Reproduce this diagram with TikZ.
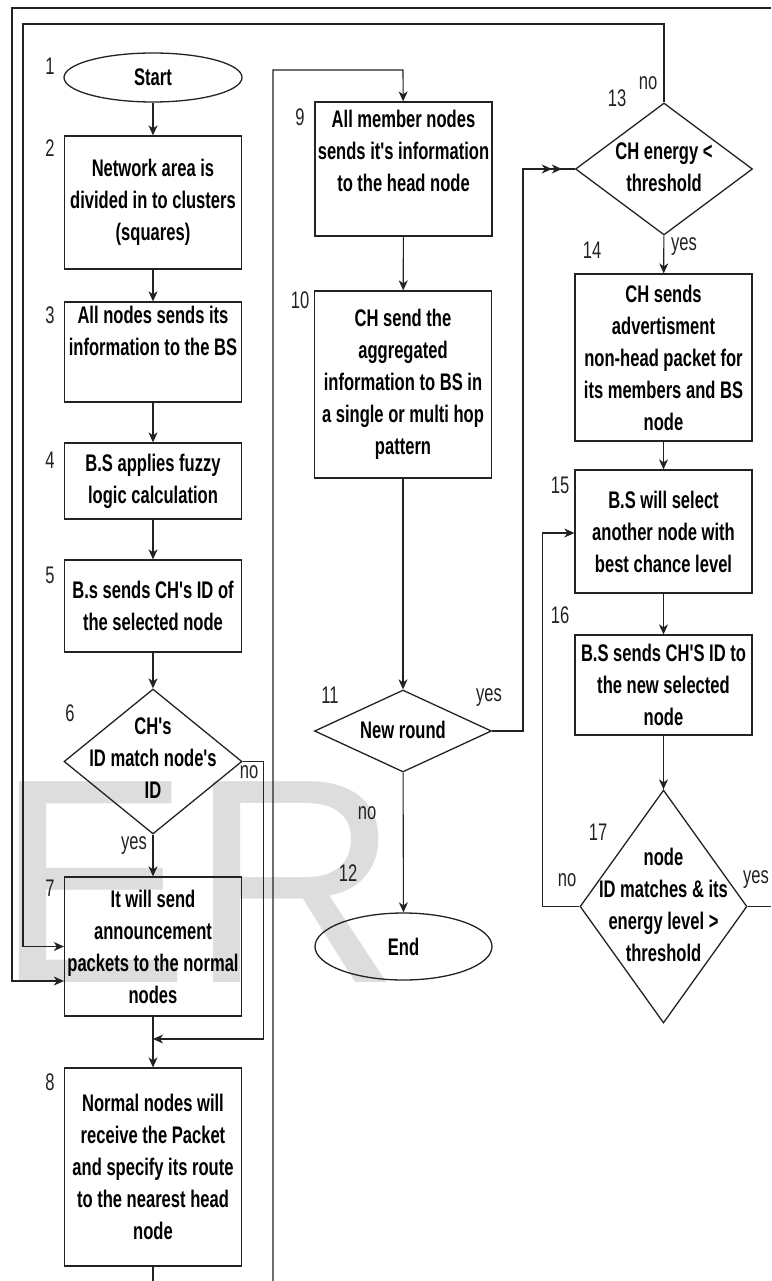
\documentclass[tikz,border=0pt]{standalone}
\usepackage{fontspec}
\setmainfont{Liberation Sans}[FakeStretch=0.69,Ligatures=TeXOff]
\newfontfamily\wmfont{Liberation Sans}
\usetikzlibrary{shapes.geometric,arrows.meta,calc}
\definecolor{wm}{HTML}{DDDDDD}
\definecolor{ln}{HTML}{222222}
\begin{document}
\begin{tikzpicture}[x=1pt,y=-1pt,
  shp/.style={draw=ln, line width=1.3pt, inner sep=0pt},
  box/.style={shp, rectangle, minimum width=177pt, align=center,
    font=\bfseries\fontsize{24}{32}\selectfont},
  oval/.style={shp, ellipse, font=\bfseries\fontsize{24}{32}\selectfont},
  dia/.style={shp, diamond},
  txt/.style={align=center, inner sep=0pt, font=\bfseries\fontsize{24}{32}\selectfont},
  lbl/.style={inner sep=0pt, text=ln, font=\fontsize{24}{28}\selectfont},
  wmk/.style={inner sep=0pt, anchor=base west, text=wm, font=\wmfont\fontsize{292}{292}\selectfont},
  conn/.style={draw=ln, line width=1.1pt},
  arr/.style={conn, -{Stealth[length=10pt,width=9pt,inset=3pt]}},
  darr/.style={conn, -{Stealth[length=10pt,width=9pt,inset=3pt]Stealth[length=10pt,width=9pt,inset=3pt]}}
]
\useasboundingbox (0,0) rectangle (771,1281);
% watermark
\node[wmk] (wmE) at (-5,982) {E};
\node[wmk] (wmR) at (189,982) {R};

% left column
\node[oval, minimum width=178pt, minimum height=49pt] (n1) at (153,77.5) {Start};
\node[box, minimum height=133pt] (n2) at (153,202.5) {Network area is\\divided in to clusters\\(squares)};
\node[box, minimum height=100pt] (n3) at (153,352) {};
\node[txt] (t3) at (153,331) {All nodes sends its\\information to the BS};
\node[box, minimum height=76pt] (n4) at (153,481) {B.S applies fuzzy\\logic calculation};
\node[box, minimum height=92pt] (n5) at (153,606) {B.s sends CH's ID of\\the selected node};
\node[dia, minimum width=178pt, minimum height=145pt] (d6) at (153,761.5) {};
\node[txt] (t6) at (153,758) {CH's\\ID match node's\\ID};
\node[box, minimum height=139pt] (n7) at (153,946.5) {It will send\\announcement\\packets to the normal\\nodes};
\node[box, minimum height=198pt] (n8) at (153,1167) {Normal nodes will\\receive the Packet\\and specify its route\\to the nearest head\\node};

% middle column
\node[box, minimum height=134pt] (n9) at (403.5,169) {};
\node[txt] (t9) at (403.5,151) {All member nodes\\sends it's information\\to the head node};
\node[box, minimum height=187pt] (n10) at (403,384.5) {CH send the\\aggregated\\information to BS in\\a single or multi hop\\pattern};
\node[dia, minimum width=177pt, minimum height=82pt] (d11) at (403,731) {};
\node[txt] (t11) at (403,730) {New round};
\node[oval, minimum width=177pt, minimum height=67pt] (n12) at (403.5,946.5) {End};

% right column
\node[dia, minimum width=177pt, minimum height=132pt] (d13) at (664,169) {};
\node[txt] (t13) at (664,167) {CH energy <\\threshold};
\node[box, minimum height=167pt] (n14) at (663.5,357.5) {CH sends\\advertisment\\non-head packet for\\its members and BS\\node};
\node[box, minimum height=123pt] (n15) at (663.5,531.5) {B.S will select\\another node with\\best chance level};
\node[box, minimum height=100pt] (n16) at (663.5,685) {B.S sends CH'S ID to\\the new selected\\node};
\node[dia, minimum width=167pt, minimum height=233pt] (d17) at (663.5,906.5) {};
\node[txt] (t17) at (663.5,905) {node\\ID matches \& its\\energy level >\\threshold};

% step numbers
\node[lbl] (l1) at (50,66) {1};
\node[lbl] (l2) at (50,148) {2};
\node[lbl] (l3) at (50,315) {3};
\node[lbl] (l4) at (50,460) {4};
\node[lbl] (l5) at (50,575) {5};
\node[lbl] (l6) at (70,713) {6};
\node[lbl] (l7) at (50,888) {7};
\node[lbl] (l8) at (50,1082) {8};
\node[lbl] (l9) at (300,117) {9};
\node[lbl] (l10) at (300,300) {10};
\node[lbl] (l11) at (330,695) {11};
\node[lbl] (l12) at (348,873) {12};
\node[lbl] (l13) at (617,98) {13};
\node[lbl] (l14) at (592,250) {14};
\node[lbl] (l15) at (560,485) {15};
\node[lbl] (l16) at (560,615) {16};
\node[lbl] (l17) at (598,832) {17};

% edge labels
\node[lbl] (e6n) at (249,772) {no};
\node[lbl] (e6y) at (134,846) {yes};
\node[lbl] (e11y) at (489,698) {yes};
\node[lbl] (e11n) at (367,813) {no};
\node[lbl] (e13n) at (648,83) {no};
\node[lbl] (e13y) at (684,247) {yes};
\node[lbl] (e17n) at (567,880) {no};
\node[lbl] (e17y) at (756,880) {yes};

% helper coordinates
\coordinate (j78) at (153,1039);
\coordinate (b153) at (153,1281);
\coordinate (b273) at (273,1281);
\coordinate (c9) at (403,70);
\coordinate (c11) at (523,169);
\coordinate (c24) at (23,24);
\coordinate (r8) at (771,8);
\coordinate (l8) at (12,8);
\coordinate (y981) at (0,981);
\coordinate (y533) at (0,533);
\coordinate (r906) at (771,906.5);

% connectors left column
\draw[arr] (n1) -- (n2);
\draw[arr] (n2) -- (n3);
\draw[arr] (n3) -- (n4);
\draw[arr] (n4) -- (n5);
\draw[arr] (n5) -- (d6);
\draw[arr] (d6) -- (n7);
\draw[arr] (n7) -- (n8);
\draw[arr] (d6.east) -- ++(21,0) |- (j78);
\draw[conn] (n8) -- (b153);

% middle column
\draw[arr] (b273) |- (c9) -- (n9);
\draw[arr] (n9) -- (n10);
\draw[arr] (n10) -- (d11);
\draw[arr] (d11) -- (n12);
\draw[conn] (d11.east) -| (c11) -- (d13.west);
\draw[darr, shorten >=13pt] (c11) -- (d13.west);

% right column
\draw[arr] (d13) -- (n14);
\draw[arr] (n14) -- (n15);
\draw[arr] (n15) -- (n16);
\draw[arr] (n16) -- (d17);
\draw[arr] (d17.west) -- ++(-37,0) |- (n15.west |- y533);
\draw[conn] (d17.east) -- (r906);

% loops back to step 7
\draw[arr] (d13.north) |- (c24) |- (n7.west);
\draw[arr] (r8) -- (l8) |- (n7.west |- y981);
\end{tikzpicture}
\end{document}
